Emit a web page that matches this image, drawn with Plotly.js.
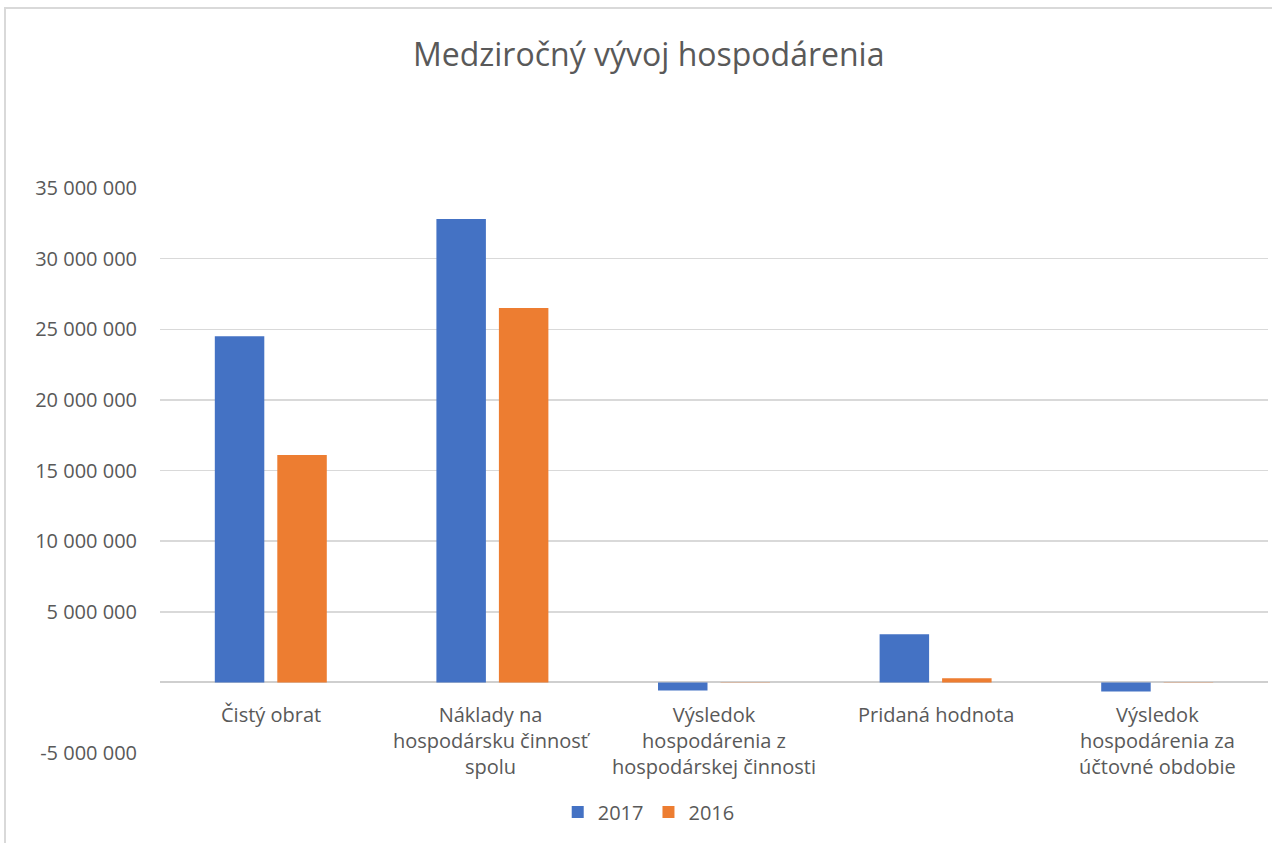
<!DOCTYPE html>
<html><head><meta charset="utf-8">
<script src="https://cdn.plot.ly/plotly-3.0.1.min.js"></script>
<style>html,body{margin:0;padding:0;background:#fff}#c{width:1272px;height:843px}</style>
</head><body><div id="c"></div>
<script>
const categories = ["Čistý obrat", "Náklady na<br>hospodársku činnosť<br>spolu", "Výsledok<br>hospodárenia z<br>hospodárskej činnosti", "Pridaná hodnota", "Výsledok<br>hospodárenia za<br>účtovné obdobie"];
const series2017 = [24500000, 32800000, -570000, 3400000, -650000];
const series2016 = [16100000, 26500000, -20000, 300000, -20000];
const tickVals = [-5000000, 0, 5000000, 10000000, 15000000, 20000000, 25000000, 30000000, 35000000];
const tickText = ["-5 000 000", "", "5 000 000", "10 000 000", "15 000 000", "20 000 000", "25 000 000", "30 000 000", "35 000 000"];

const font = "Open Sans, Noto Sans, sans-serif";
const grey = "#595959";
const W = 1272, H = 843, L = 160, R = 4, T = 188, B = 90;
const pw = W - L - R, ph = H - T - B;

const traces = [
  {type: "bar", name: "2017", x: categories, y: series2017, marker: {color: "#4472C4"}},
  {type: "bar", name: "2016", x: categories, y: series2016, marker: {color: "#ED7D31"}}
];

const annotations = categories.map(c => ({
  x: c, y: 0, xref: "x", yref: "y", text: c, showarrow: false,
  yanchor: "top", yshift: -17, font: {family: font, size: 20, color: grey}, align: "center"
}));

const layout = {
  width: W, height: H,
  margin: {l: L, r: R, t: T, b: B},
  paper_bgcolor: "#fff", plot_bgcolor: "#fff",
  title: {text: "Medziročný vývoj hospodárenia", x: 0.51, xref: "container", xanchor: "center",
          y: (H - 55) / H, yanchor: "middle",
          font: {family: font, size: 32, color: grey}},
  barmode: "group", bargap: 0.436, bargroupgap: 0.208,
  xaxis: {showticklabels: false, showgrid: false, zeroline: false, showline: false, ticks: ""},
  yaxis: {range: [-5000000, 35000000], tickvals: tickVals, ticktext: tickText,
          showgrid: true, gridcolor: "#d9d9d9", gridwidth: 1.5,
          zeroline: true, zerolinecolor: "#cfcfcf", zerolinewidth: 2,
          ticks: "", ticklabelstandoff: 22, tickfont: {family: font, size: 20, color: grey}},
  showlegend: true,
  legend: {orientation: "h", xref: "container", yref: "container", x: 0.51, xanchor: "center",
           y: 1 - 812 / H, yanchor: "middle", font: {family: font, size: 20, color: grey},
           itemwidth: 30, traceorder: "normal"},
  annotations: annotations,
  shapes: [{type: "rect", xref: "paper", yref: "paper",
            x0: (5 - L) / pw, x1: (W + 10 - L) / pw, y0: -(B + 10) / ph, y1: (H - B - 8) / ph,
            line: {color: "#d9d9d9", width: 2}, fillcolor: "rgba(0,0,0,0)", layer: "below"}]
};
Plotly.newPlot("c", traces, layout, {displayModeBar: false, staticPlot: true});
</script></body></html>
